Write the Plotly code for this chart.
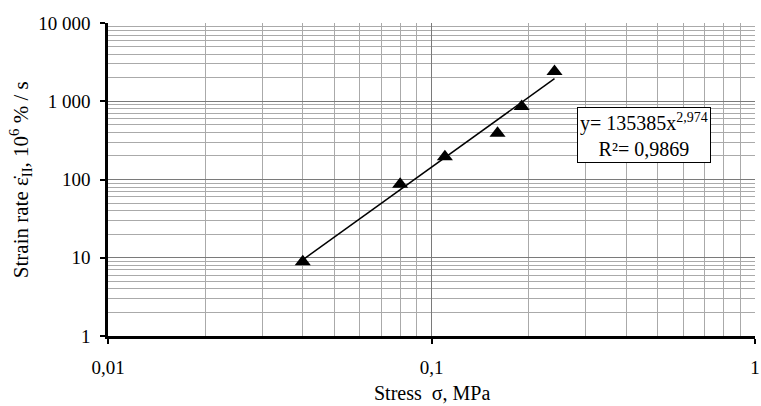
import numpy as np
import plotly.graph_objects as go

# Data
stress = [0.04, 0.08, 0.11, 0.16, 0.19, 0.24]          # MPa
strain_rate = [8.9, 87, 195, 390, 860, 2400]           # 10^6 %/s

# Power-law trendline as printed on the chart
trend_coef = 135385
trend_exp = 2.974
trend_r2 = "0,9869"
trend_x = [0.04, 0.24]

x_tickvals = [0.01, 0.1, 1]
x_ticktext = ["0,01", "0,1", "1"]
y_tickvals = [1, 10, 100, 1000, 10000]
y_ticktext = ["1", "10", "100", "1 000", "10 000"]

x_minor = [m * d for d in (0.01, 0.1) for m in range(2, 10)]
y_minor = [m * d for d in (1, 10, 100, 1000) for m in range(2, 10)]

trend_y = [trend_coef * x ** trend_exp for x in trend_x]

FONT = "Liberation Serif, Times New Roman, serif"

fig = go.Figure()
fig.add_trace(go.Scatter(x=trend_x, y=trend_y, mode="lines",
                         line=dict(color="black", width=1.5),
                         showlegend=False, hoverinfo="skip"))
fig.add_trace(go.Scatter(x=stress, y=strain_rate, mode="markers",
                         marker=dict(symbol="triangle-up", size=14, color="black"),
                         showlegend=False))

axis_common = dict(
    type="log",
    showline=True, linecolor="black", linewidth=2.5,
    ticks="outside", ticklen=5, tickwidth=2, tickcolor="black",
    showgrid=True, gridcolor="#7a7a7a", gridwidth=1,
    zeroline=False, automargin=False,
    ticklabeloverflow="allow",
    tickfont=dict(family=FONT, size=19, color="black"),
)

fig.update_layout(
    width=761, height=406,
    margin=dict(l=108, r=6, t=23, b=70, autoexpand=False),
    paper_bgcolor="white", plot_bgcolor="white",
    font=dict(family=FONT, color="black"),
    xaxis=dict(**axis_common, range=[-2, 0],
               tickmode="array", tickvals=x_tickvals, ticktext=x_ticktext,
               ticklabelstandoff=7,
               minor=dict(tickmode="array", tickvals=x_minor, showgrid=True,
                          gridcolor="#aaaaaa", gridwidth=1, ticks="")),
    yaxis=dict(**axis_common, range=[0, 4],
               tickmode="array", tickvals=y_tickvals, ticktext=y_ticktext,
               ticklabelstandoff=6,
               minor=dict(tickmode="array", tickvals=y_minor, showgrid=True,
                          gridcolor="#aaaaaa", gridwidth=1, ticks="")),
    annotations=[
        dict(text="Stress  σ, MPa", xref="paper", yref="paper",
             x=0.5, y=-0.183, xanchor="center", yanchor="middle",
             showarrow=False, font=dict(family=FONT, size=20, color="black")),
        dict(text="Strain rate ε̇<sub>II</sub>, 10<sup>6</sup> % / s",
             xref="paper", yref="paper", x=-0.135, y=0.5, textangle=-90,
             xanchor="center", yanchor="middle",
             showarrow=False, font=dict(family=FONT, size=21, color="black")),
        dict(text=f"y= {trend_coef}x<sup>{str(trend_exp).replace('.', ',')}</sup><br>R²= {trend_r2}",
             xref="paper", yref="paper", x=0.829, y=0.642,
             xanchor="center", yanchor="middle", align="center",
             showarrow=False, bgcolor="white", bordercolor="black",
             borderwidth=1, borderpad=2,
             font=dict(family=FONT, size=20, color="black")),
    ],
)

fig.write_html("out.html")
